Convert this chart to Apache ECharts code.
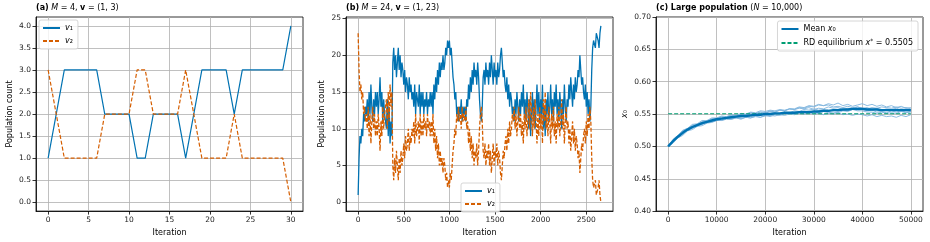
<!DOCTYPE html>
<html>
<head>
<meta charset="utf-8">
<script src="https://cdn.jsdelivr.net/npm/echarts@6/dist/echarts.min.js"></script>
<style>
  html, body { margin: 0; padding: 0; background: #fff; }
  #chart { width: 930px; height: 242px; }
</style>
</head>
<body>
<div id="chart"></div>
<script>
// panel (a): M = 4, one value per iteration
const iterA = [0,1,2,3,4,5,6,7,8,9,10,11,12,13,14,15,16,17,18,19,20,21,22,23,24,25,26,27,28,29,30];
const v1A = [1,2,3,3,3,3,3,2,2,2,2,1,1,2,2,2,2,1,2,3,3,3,3,2,3,3,3,3,3,3,4];
const v2A = [3,2,1,1,1,1,1,2,2,2,2,3,3,2,2,2,2,3,2,1,1,1,1,2,1,1,1,1,1,1,0];

// panel (b): M = 24, read every 10 iterations
const stepB = 10;
const v1B = [
  1,6,9,8,10,9,12,11,13,12,
  14,11,15,12,16,13,11,14,12,15,
  13,15,12,14,17,13,15,11,14,12,
  12,10,14,9,13,8,11,9,19,21,
  18,20,17,19,21,18,20,17,19,18,
  16,18,15,17,16,14,17,15,16,14,
  15,13,16,12,15,14,13,16,12,15,
  13,15,12,14,13,15,12,14,13,15,
  13,15,12,16,14,17,15,18,16,19,
  17,19,18,20,18,19,21,20,22,21,
  22,20,21,19,17,16,14,15,12,13,
  11,13,12,14,11,13,12,13,11,14,
  13,16,14,17,15,18,16,19,17,18,
  16,19,17,14,12,11,13,17,18,16,
  19,17,18,16,19,17,20,18,16,19,
  17,18,16,19,17,18,20,21,19,17,
  18,16,15,17,14,16,13,15,14,12,
  13,11,14,12,15,13,11,14,12,15,
  13,16,12,14,11,15,13,10,14,9,
  12,15,11,14,10,13,16,12,15,11,
  14,12,16,10,13,9,14,12,15,11,
  13,16,12,14,11,15,13,16,12,14,
  11,15,13,10,14,12,16,13,11,14,
  13,16,14,17,15,13,16,14,17,15,
  16,18,17,20,18,16,17,15,14,16,
  13,15,12,14,11,13,18,21,22,22,
  21,23,23,22,21,23,24
];
const v2B = [
  23,18,15,16,14,15,12,13,11,12,
  10,13,9,12,8,11,13,10,12,9,
  11,9,12,10,7,11,9,13,10,12,
  12,14,10,15,11,16,13,15,5,3,
  6,4,7,5,3,6,4,7,5,6,
  8,6,9,7,8,10,7,9,8,10,
  9,11,8,12,9,10,11,8,12,9,
  11,9,12,10,11,9,12,10,11,9,
  11,9,12,8,10,7,9,6,8,5,
  7,5,6,4,6,5,3,4,2,3,
  2,4,3,5,7,8,10,9,12,11,
  13,11,12,10,13,11,12,11,13,10,
  11,8,10,7,9,6,8,5,7,6,
  8,5,7,10,12,13,11,7,6,8,
  5,7,6,8,5,7,4,6,8,5,
  7,6,8,5,7,6,4,3,5,7,
  6,8,9,7,10,8,11,9,10,12,
  11,13,10,12,9,11,13,10,12,9,
  11,8,12,10,13,9,11,14,10,15,
  12,9,13,10,14,11,8,12,9,13,
  10,12,8,14,11,15,10,12,9,13,
  11,8,12,10,13,9,11,8,12,10,
  13,9,11,14,10,12,8,11,13,10,
  11,8,10,7,9,11,8,10,7,9,
  8,6,7,4,6,8,7,9,10,8,
  11,9,12,10,13,11,6,3,2,2,
  3,1,1,2,3,1,0
];

// panel (c): N = 10,000, read every 1000 iterations
const stepC = 1000;
const eqX = [0, 50000];
const eqVal = 0.5505;
const meanC = [
  .500,.508,.515,.521,.526,.530,.533,.536,.538,.540,
  .542,.543,.544,.545,.546,.547,.547,.548,.549,.549,
  .550,.550,.551,.551,.552,.552,.552,.553,.553,.553,
  .554,.554,.555,.555,.556,.556,.557,.557,.558,.558,
  .558,.557,.557,.557,.556,.556,.556,.556,.556,.556,
  .556
];
const runA = [
  .500,.510,.516,.524,.527,.533,.534,.538,.538,.542,
  .542,.545,.544,.547,.546,.549,.548,.551,.550,.553,
  .552,.555,.553,.556,.555,.558,.557,.560,.559,.562,
  .561,.564,.563,.566,.564,.567,.563,.565,.562,.564,
  .566,.563,.565,.562,.564,.561,.563,.560,.562,.559,
  .560
];
const runB = [
  .500,.506,.514,.519,.525,.528,.532,.534,.537,.538,
  .540,.540,.542,.542,.544,.543,.545,.544,.546,.545,
  .547,.548,.547,.549,.548,.550,.549,.551,.550,.552,
  .550,.551,.549,.551,.550,.552,.549,.550,.548,.550,
  .549,.547,.549,.546,.548,.546,.547,.545,.548,.546,
  .549
];
const runC = [
  .500,.511,.517,.525,.528,.534,.535,.540,.540,.544,
  .544,.547,.546,.549,.548,.551,.550,.553,.552,.555,
  .554,.556,.555,.557,.556,.558,.557,.559,.558,.560,
  .557,.559,.558,.561,.559,.560,.557,.559,.558,.561,
  .559,.560,.557,.559,.556,.558,.557,.559,.556,.558,
  .557
];
const runD = [
  .500,.505,.513,.517,.524,.526,.531,.532,.536,.537,
  .540,.541,.543,.543,.545,.545,.547,.546,.548,.548,
  .550,.551,.552,.550,.553,.552,.555,.554,.557,.556,
  .558,.556,.557,.554,.556,.554,.556,.555,.558,.556,
  .557,.555,.556,.553,.554,.552,.555,.553,.555,.553,
  .554
];
const runE = [
  .500,.509,.515,.523,.526,.532,.533,.538,.539,.543,
  .543,.546,.545,.548,.547,.550,.549,.552,.551,.553,
  .551,.554,.553,.556,.555,.558,.558,.561,.560,.563,
  .562,.565,.563,.564,.561,.562,.560,.562,.560,.561,
  .559,.558,.560,.559,.561,.560,.559,.561,.559,.560,
  .558
];
const runF = [
  .500,.507,.516,.520,.527,.528,.533,.534,.538,.538,
  .541,.540,.543,.542,.544,.542,.545,.544,.547,.545,
  .548,.546,.549,.548,.551,.550,.553,.552,.555,.553,
  .553,.552,.554,.552,.553,.552,.555,.554,.557,.555,
  .555,.553,.553,.551,.553,.551,.552,.551,.554,.552,
  .553
];
const runsC = [runA, runB, runC, runD, runE, runF];

// tick labels
const ticksAx = [0, 5, 10, 15, 20, 25, 30];
const ticksAy = [0, 0.5, 1, 1.5, 2, 2.5, 3, 3.5, 4];
const ticksBx = [0, 500, 1000, 1500, 2000, 2500];
const ticksBy = [0, 5, 10, 15, 20, 25];
const ticksCx = [0, 10000, 20000, 30000, 40000, 50000];
const ticksCy = [0.40, 0.45, 0.50, 0.55, 0.60, 0.65, 0.70];

const FONT = 'DejaVu Sans';
const BLUE = '#0072B2';
const ORANGE = '#D55E00';
const GREEN = '#009E73';
const RUN = '#7fb5de';

const zip = (xs, ys) => ys.map((v, i) => [xs[i], v]);
const stepped = (step, ys) => ys.map((v, i) => [i * step, v]);

function axis(gridIndex, min, max, ticks, fmt, name, nameGap) {
  return {
    type: 'value', gridIndex: gridIndex, min: min, max: max,
    name: name, nameLocation: 'middle', nameGap: nameGap,
    nameTextStyle: {
      fontFamily: FONT, fontSize: 8, color: '#000',
      rich: { i: { fontFamily: FONT, fontSize: 8, fontStyle: 'italic', color: '#000' } }
    },
    axisLine: { show: true, onZero: false, lineStyle: { color: '#000', width: 0.8 } },
    axisTick: { show: true, length: 3.5, customValues: ticks, lineStyle: { color: '#000', width: 0.8 } },
    axisLabel: { customValues: ticks, formatter: fmt, margin: 5, fontFamily: FONT, fontSize: 7.5, color: '#222' },
    splitLine: { show: true, lineStyle: { color: '#b0b0b0', width: 0.8 } }
  };
}

const titleStyle = {
  fontFamily: FONT, fontSize: 8, fontWeight: 'normal', color: '#000',
  rich: {
    b: { fontFamily: FONT, fontSize: 8, fontWeight: 'bold', color: '#000' },
    i: { fontFamily: FONT, fontSize: 8, fontStyle: 'italic', color: '#000' }
  }
};

const legendLabels = {
  a_v1: '{i|v}₁', a_v2: '{i|v}₂', b_v1: '{i|v}₁', b_v2: '{i|v}₂',
  mean: 'Mean {i|x}₀', eq: 'RD equilibrium {i|x}{s|*} = 0.5505'
};
function legend(pos, names) {
  return Object.assign({
    orient: 'vertical', data: names, itemWidth: 17, itemHeight: 8, itemGap: 5,
    padding: [4, 5, 4, 3], backgroundColor: 'rgba(255,255,255,0.8)',
    borderColor: '#ccc', borderWidth: 0.8, borderRadius: 2,
    selectedMode: false,
    itemStyle: { opacity: 0 },
    formatter: n => legendLabels[n],
    textStyle: {
      fontFamily: FONT, fontSize: 8, color: '#000',
      rich: {
        i: { fontFamily: FONT, fontSize: 8, fontStyle: 'italic', color: '#000' },
        s: { fontFamily: FONT, fontSize: 6, color: '#000', verticalAlign: 'top', padding: [0, 0, 4, 0] }
      }
    }
  }, pos);
}

function line(name, g, data, color, width, dash, opacity) {
  return {
    name: name, type: 'line', xAxisIndex: g, yAxisIndex: g, data: data,
    symbol: 'none', showSymbol: false, silent: true,
    lineStyle: { color: color, width: width, type: dash || 'solid', opacity: opacity == null ? 1 : opacity },
    itemStyle: { color: color }
  };
}

const series = [
  line('a_v1', 0, zip(iterA, v1A), BLUE, 1.2),
  line('a_v2', 0, zip(iterA, v2A), ORANGE, 1.2, [4, 2]),
  line('b_v1', 1, stepped(stepB, v1B), BLUE, 1.3),
  line('b_v2', 1, stepped(stepB, v2B), ORANGE, 1.3, [4, 2])
];
runsC.forEach((r, k) => series.push(line('run' + k, 2, stepped(stepC, r), RUN, 1, 'solid', 0.9)));
series.push(line('eq', 2, eqX.map(x => [x, eqVal]), GREEN, 1.1, [4, 2]));
series.push(line('mean', 2, stepped(stepC, meanC), BLUE, 2.4));

const chart = echarts.init(document.getElementById('chart'), null, { renderer: 'canvas' });
chart.setOption({
  animation: false,
  backgroundColor: '#fff',
  title: [
    { left: 36, top: 4, padding: 0, text: '{b|(a)} {i|M} = 4, {b|v} = (1, 3)', textStyle: titleStyle },
    { left: 346, top: 4, padding: 0, text: '{b|(b)} {i|M} = 24, {b|v} = (1, 23)', textStyle: titleStyle },
    { left: 656, top: 4, padding: 0, text: '{b|(c) Large population} ({i|N} = 10,000)', textStyle: titleStyle }
  ],
  grid: [
    { left: 36, top: 17, width: 267, height: 196, show: true, borderColor: '#000', borderWidth: 0.8 },
    { left: 346, top: 17, width: 267, height: 196, show: true, borderColor: '#000', borderWidth: 0.8 },
    { left: 656, top: 17, width: 267, height: 196, show: true, borderColor: '#000', borderWidth: 0.8 }
  ],
  xAxis: [
    axis(0, -1.5, 31.5, ticksAx, v => String(v), 'Iteration', 15),
    axis(1, -133, 2793, ticksBx, v => String(v), 'Iteration', 15),
    axis(2, -2500, 52500, ticksCx, v => String(v), 'Iteration', 15)
  ],
  yAxis: [
    axis(0, -0.2, 4.2, ticksAy, v => v.toFixed(1), 'Population count', 22),
    axis(1, -1.2, 25.2, ticksBy, v => String(v), 'Population count', 20),
    axis(2, 0.4, 0.7, ticksCy, v => v.toFixed(2), '{i|x}₀', 27)
  ],
  legend: [
    legend({ left: 39, top: 20 }, ['a_v1', 'a_v2']),
    legend({ left: 461, top: 183 }, ['b_v1', 'b_v2']),
    legend({ right: 12, top: 21 }, ['mean', 'eq'])
  ],
  series: series
});
</script>
</body>
</html>
